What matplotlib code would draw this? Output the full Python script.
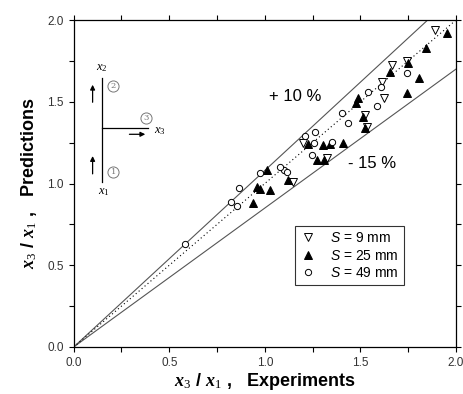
import matplotlib.pyplot as plt
from matplotlib.ticker import MultipleLocator
import numpy as np

plt.rcParams['font.family'] = ['Liberation Sans', 'DejaVu Sans']
plt.rcParams['mathtext.fontset'] = 'custom'
plt.rcParams['mathtext.rm'] = 'Liberation Serif'
plt.rcParams['mathtext.it'] = 'Liberation Serif:italic'
plt.rcParams['mathtext.bf'] = 'Liberation Serif:bold'
plt.rcParams['mathtext.bfit'] = 'Liberation Serif:bold:italic'
plt.rcParams['mathtext.sf'] = 'Liberation Sans:italic'

# data: (experiments, predictions)
s9_x = [1.890, 1.742, 1.663, 1.611, 1.623, 1.524, 1.532, 1.198, 1.323, 1.149]
s9_y = [1.939, 1.751, 1.725, 1.623, 1.521, 1.419, 1.347, 1.250, 1.154, 1.011]

s25_x = [1.951, 1.843, 1.750, 1.654, 1.808, 1.742, 1.489, 1.476, 1.515, 1.524,
         1.227, 1.306, 1.340, 1.410, 1.274, 1.309, 1.122, 1.009, 0.957, 0.974,
         1.027, 0.939]
s25_y = [1.922, 1.831, 1.739, 1.684, 1.643, 1.552, 1.521, 1.490, 1.405, 1.337,
         1.240, 1.235, 1.242, 1.250, 1.144, 1.144, 1.021, 1.083, 0.977, 0.965,
         0.960, 0.883]

s49_x = [1.745, 1.606, 1.541, 1.585, 1.402, 1.433, 1.210, 1.262, 1.258, 1.349,
         1.245, 1.100, 1.114, 1.079, 0.974, 0.866, 0.823, 0.856, 0.582]
s49_y = [1.678, 1.588, 1.562, 1.474, 1.429, 1.372, 1.291, 1.317, 1.246, 1.256,
         1.174, 1.083, 1.072, 1.103, 1.062, 0.971, 0.889, 0.862, 0.628]

upper_slope = 1.08   # "+10 %" band
lower_slope = 0.85   # "-15 %" band

fig = plt.figure(figsize=(4.64, 3.94), dpi=100)
ax = fig.add_axes([0.1588, 0.1193, 0.8240, 0.8299])

xx = np.array([0.0, 2.0])
ax.plot(xx, upper_slope * xx, color='#555555', lw=0.8)
ax.plot(xx, lower_slope * xx, color='#555555', lw=0.8)
ax.plot(xx, xx, color='black', lw=0.8, ls=(0, (1, 2.5)))

ax.plot(s9_x, s9_y, 'v', ms=6, mfc='white', mec='black', mew=0.7,
        ls='none', label=r'$\mathsf{S}$ = 9 mm')
ax.plot(s25_x, s25_y, '^', ms=6, mfc='black', mec='black', mew=0.7,
        ls='none', label=r'$\mathsf{S}$ = 25 mm')
ax.plot(s49_x, s49_y, 'o', ms=4.5, mfc='white', mec='black', mew=0.7,
        ls='none', label=r'$\mathsf{S}$ = 49 mm')

ax.set_xlim(0, 2)
ax.set_ylim(0, 2)
ax.xaxis.set_major_locator(MultipleLocator(0.5))
ax.yaxis.set_major_locator(MultipleLocator(0.5))
ax.xaxis.set_minor_locator(MultipleLocator(0.25))
ax.yaxis.set_minor_locator(MultipleLocator(0.25))
ax.xaxis.set_major_formatter(plt.FormatStrFormatter('%.1f'))
ax.yaxis.set_major_formatter(plt.FormatStrFormatter('%.1f'))
ax.tick_params(which='both', direction='out', length=3.5, width=0.8,
               labelsize=8.5, labelcolor='#333333')
ax.tick_params(which='both', top=True, right=True)
for sp in ax.spines.values():
    sp.set_linewidth(0.9)

ax.text(1.16, 1.535, '+ 10 %', fontsize=12, ha='center', va='center')
ax.text(1.56, 1.125, '- 15 %', fontsize=12, ha='center', va='center')

leg = ax.legend(loc='upper left', bbox_to_anchor=(0.56, 0.39), fontsize=10,
                frameon=True, fancybox=False, edgecolor='black',
                handletextpad=1.0, borderpad=0.35, labelspacing=0.25,
                handlelength=1.2)
leg.get_frame().set_linewidth(0.8)

ax.set_xlabel(r'$\mathbfit{x}_{3}$ / $\mathbfit{x}_{1}$ ,   Experiments',
              fontsize=13, fontweight='bold', labelpad=2)
ax.set_ylabel(r'$\mathbfit{x}_{3}$ / $\mathbfit{x}_{1}$ ,   Predictions',
              fontsize=13, fontweight='bold', labelpad=6)

# flow schematic in the upper left corner
ax.plot([0.146, 0.146], [1.011, 1.647], color='black', lw=0.9)
ax.plot([0.146, 0.389], [1.341, 1.341], color='black', lw=0.9)
arrow = dict(arrowstyle='-|>', color='black', lw=0.9, mutation_scale=7)
ax.annotate('', xy=(0.099, 1.621), xytext=(0.099, 1.480), arrowprops=arrow)
ax.annotate('', xy=(0.099, 1.185), xytext=(0.099, 1.042), arrowprops=arrow)
ax.annotate('', xy=(0.389, 1.301), xytext=(0.277, 1.301), arrowprops=arrow)
for sx, sy, s in [(0.207, 1.072, '1'), (0.207, 1.596, '2'), (0.377, 1.402, '3')]:
    ax.plot(sx, sy, 'o', ms=8, mfc='none', mec='#777777', mew=0.7)
    ax.text(sx, sy, s, fontsize=6, color='#777777', ha='center', va='center',
            family='DejaVu Serif')
ax.text(0.146, 1.705, r'$x_2$', fontsize=9, ha='center', va='center')
ax.text(0.158, 0.951, r'$x_1$', fontsize=9, ha='center', va='center')
ax.text(0.452, 1.321, r'$x_3$', fontsize=9, ha='center', va='center')

fig.savefig('out.png', dpi=100)
